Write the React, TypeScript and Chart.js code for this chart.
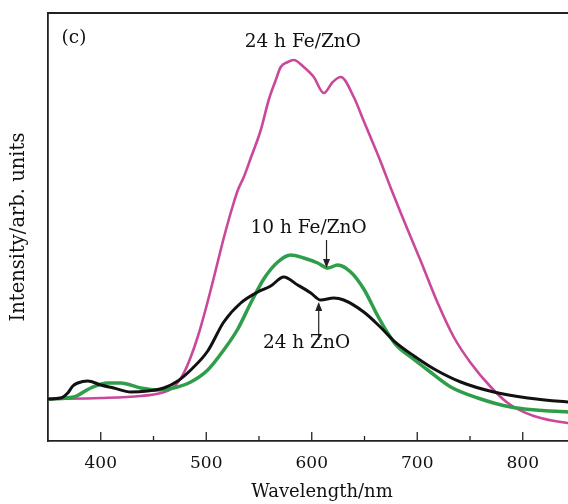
import React, { useEffect, useRef } from "react";
import { Chart, registerables } from "chart.js";

Chart.register(...registerables);

// 24 h Fe/ZnO (pink)
const fe24Wavelength = [350, 400, 437.9, 456.9, 469.2, 478.7, 485.3, 491.9, 499.5, 507.1, 516.6, 525.1, 530, 536, 542.2, 551.7, 559.2, 565.9, 570.6, 577.3, 582.9, 592.4, 601.9, 611.4, 619.9, 627.5, 639.8, 649.3, 658.8, 665.4, 674.9, 684.4, 693.8, 703.3, 719.4, 734.6, 750.7, 769.7, 785.8, 810.4, 842.7, 870];
const fe24Intensity = [42, 43, 45, 48, 54, 68, 84, 104, 132, 163, 203, 235, 251, 265, 283, 311, 341, 361, 374, 379, 381, 374, 364, 348, 359, 364, 344, 320, 296, 279, 253, 228, 204, 180, 138, 104, 78, 54, 38, 25, 18, 16];

// 10 h Fe/ZnO (green)
const fe10Wavelength = [350, 374.4, 390.5, 406.6, 419, 437.9, 454, 469.2, 485.3, 501.4, 516.6, 529.9, 542.2, 554.5, 567.8, 580.1, 592.4, 605.7, 615.2, 624.6, 636.9, 649.3, 662.6, 672, 680, 693.8, 709.9, 731.8, 757.3, 788.6, 842.7, 870];
const fe10Intensity = [42, 44, 53, 58, 58, 53, 51, 53, 59, 71, 91, 112, 138, 162, 179, 186, 183, 178, 173, 176, 169, 152, 125, 108, 96, 84, 71, 54, 43, 34, 29, 28];

// 24 h ZnO (black)
const zn24Wavelength = [350, 362.1, 368.7, 373.5, 378.2, 387.7, 400, 412.3, 428.4, 444.5, 459.7, 473, 485.3, 501.4, 516.6, 532.7, 548.8, 561.1, 573.5, 586.7, 599.1, 608.5, 620.9, 630.3, 649.3, 664, 678, 697, 716, 741.2, 772.5, 804.7, 842.7, 870];
const zn24Intensity = [42, 43, 48, 55, 58, 60, 56, 53, 49, 50, 53, 60, 71, 90, 119, 138, 149, 155, 164, 156, 148, 141, 143, 141, 129, 115, 100, 85, 72, 59, 49, 43, 39, 37];

const majorTicks = [400, 500, 600, 700, 800];
const minorTicks = [450, 550, 650, 750, 850];

const noteTexts = ["(c)", "24 h Fe/ZnO", "10 h Fe/ZnO", "24 h ZnO"];
const noteX = [374.6, 591.5, 597, 595];
const noteY = [403, 399, 213, 98];

const arrowX = [614, 606.6];
const arrowFrom = [201, 101];
const arrowTo = [173, 139];

const SERIF = "'DejaVu Serif', serif";

const toPoints = (xs: number[], ys: number[]) => xs.map((x, i) => ({ x, y: ys[i] }));

const decorPlugin = {
  id: "decor",
  afterDraw(chart: any) {
    const { ctx, chartArea, scales } = chart;
    const xs = scales.x;
    const ys = scales.y;
    ctx.save();
    ctx.strokeStyle = "#222";
    ctx.lineWidth = 1.8;
    ctx.beginPath();
    ctx.moveTo(chartArea.left, chartArea.top);
    ctx.lineTo(chartArea.right + 10, chartArea.top);
    ctx.stroke();
    ctx.lineWidth = 1.3;
    majorTicks.forEach((v) => {
      const px = xs.getPixelForValue(v);
      ctx.beginPath();
      ctx.moveTo(px, chartArea.bottom);
      ctx.lineTo(px, chartArea.bottom - 9);
      ctx.stroke();
    });
    minorTicks.forEach((v) => {
      const px = xs.getPixelForValue(v);
      ctx.beginPath();
      ctx.moveTo(px, chartArea.bottom);
      ctx.lineTo(px, chartArea.bottom - 5);
      ctx.stroke();
    });
    ctx.fillStyle = "#111";
    ctx.font = "18.5px " + SERIF;
    ctx.textAlign = "center";
    ctx.textBaseline = "middle";
    noteTexts.forEach((t, i) => {
      ctx.fillText(t, xs.getPixelForValue(noteX[i]), ys.getPixelForValue(noteY[i]));
    });
    ctx.strokeStyle = "#222";
    ctx.fillStyle = "#222";
    ctx.lineWidth = 1.2;
    arrowX.forEach((ax, i) => {
      const px = xs.getPixelForValue(ax);
      const y0 = ys.getPixelForValue(arrowFrom[i]);
      const y1 = ys.getPixelForValue(arrowTo[i]);
      const dir = y1 > y0 ? 1 : -1;
      ctx.beginPath();
      ctx.moveTo(px, y0);
      ctx.lineTo(px, y1 - dir * 6);
      ctx.stroke();
      ctx.beginPath();
      ctx.moveTo(px, y1);
      ctx.lineTo(px - 3.5, y1 - dir * 9);
      ctx.lineTo(px + 3.5, y1 - dir * 9);
      ctx.closePath();
      ctx.fill();
    });
    ctx.restore();
  },
};

export default function App() {
  const ref = useRef<HTMLCanvasElement | null>(null);
  useEffect(() => {
    if (!ref.current) return;
    const common = {
      showLine: true,
      pointRadius: 0,
      tension: 0,
      cubicInterpolationMode: "monotone" as const,
    };
    const chart = new Chart(ref.current, {
      type: "scatter",
      data: {
        datasets: [
          {
            ...common,
            label: "24 h ZnO",
            data: toPoints(zn24Wavelength, zn24Intensity),
            borderColor: "#111111",
            borderWidth: 3,
            order: 1,
          },
          {
            ...common,
            label: "10 h Fe/ZnO",
            data: toPoints(fe10Wavelength, fe10Intensity),
            borderColor: "#2f9e4a",
            borderWidth: 3.5,
            order: 2,
          },
          {
            ...common,
            label: "24 h Fe/ZnO",
            data: toPoints(fe24Wavelength, fe24Intensity),
            borderColor: "#c9489b",
            borderWidth: 2.6,
            order: 3,
          },
        ],
      },
      options: {
        responsive: false,
        animation: false,
        layout: { padding: { top: 13, right: 4, left: 0, bottom: 0 } },
        plugins: { legend: { display: false }, tooltip: { enabled: false } },
        scales: {
          x: {
            type: "linear",
            min: 350,
            max: 350 + 548 / 1.055,
            afterFit: (s: any) => {
              s.height = 63;
            },
            afterBuildTicks: (s: any) => {
              s.ticks = majorTicks.map((v) => ({ value: v }));
            },
            grid: { display: false, drawTicks: false },
            border: { display: true, color: "#222", width: 1.8 },
            ticks: {
              color: "#111",
              padding: 12,
              maxRotation: 0,
              font: { family: SERIF, size: 17 },
            },
            title: {
              display: true,
              text: "Wavelength/nm",
              color: "#111",
              padding: { top: 0, bottom: 1 },
              font: { family: SERIF, size: 18 },
            },
          },
          y: {
            type: "linear",
            min: 0,
            max: 428,
            afterFit: (s: any) => {
              s.width = 48;
            },
            grid: { display: false, drawTicks: false },
            border: { display: true, color: "#222", width: 1.8 },
            ticks: { display: false },
            title: {
              display: true,
              text: "Intensity/arb. units",
              color: "#111",
              padding: { top: 7, bottom: 0 },
              font: { family: SERIF, size: 19.5 },
            },
          },
        },
      },
      plugins: [decorPlugin],
    });
    return () => chart.destroy();
  }, []);
  return (
    <div
      style={{
        position: "absolute",
        left: 0,
        top: 0,
        width: 568,
        height: 504,
        overflow: "hidden",
        background: "#fff",
      }}
    >
      <canvas ref={ref} width={600} height={504} style={{ display: "block" }} />
    </div>
  );
}
